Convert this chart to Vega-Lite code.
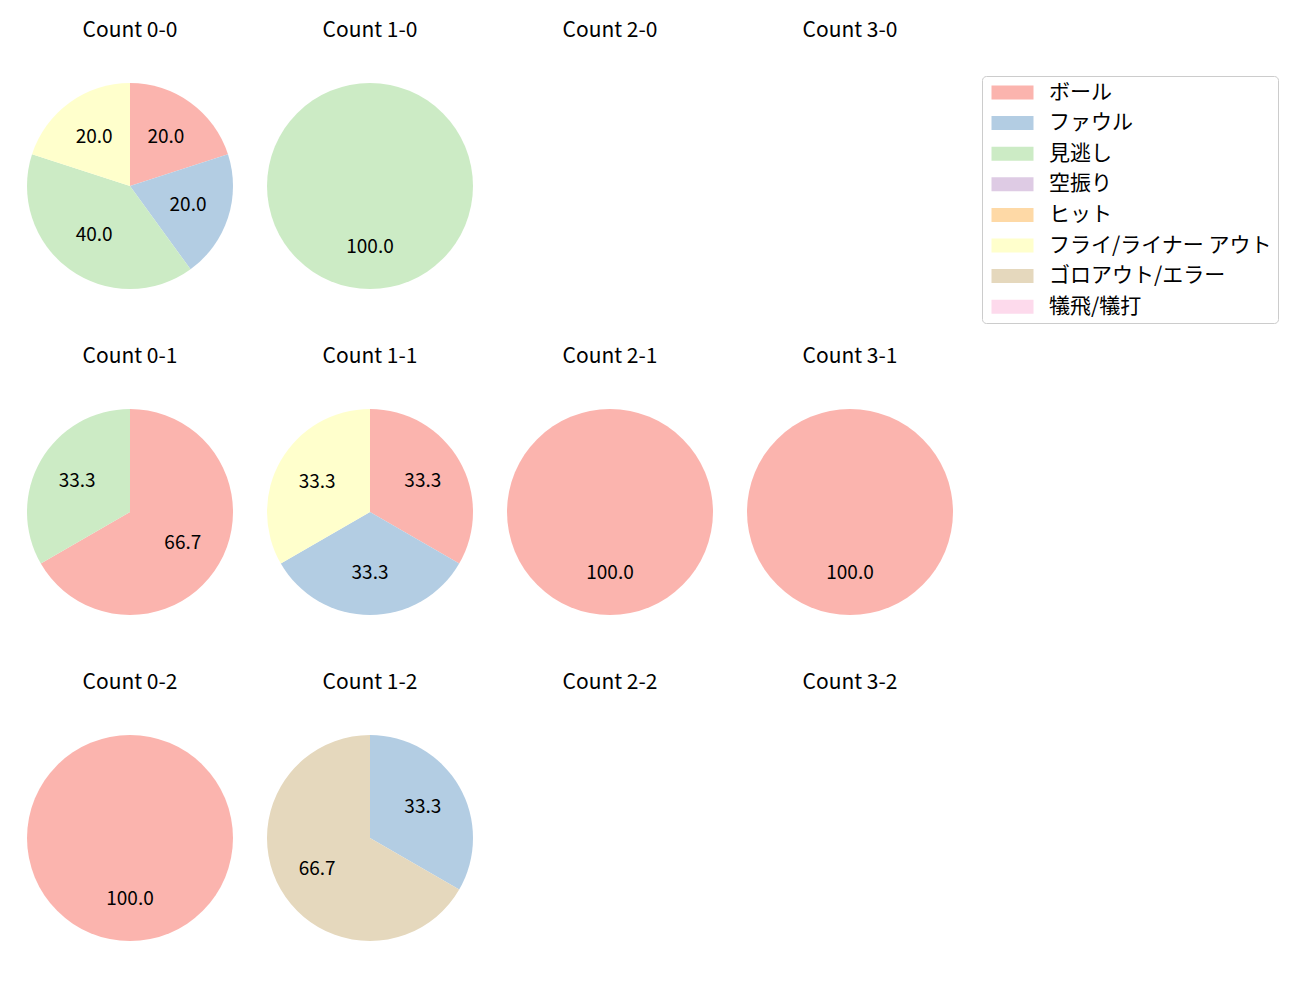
{
  "$schema": "https://vega.github.io/schema/vega-lite/v6.json",
  "padding": {"left": 25, "top": 20, "right": 5, "bottom": 5},
  "data": {"values": [
    {"panel": "Count 0-0", "cat": "ボール", "k": 0, "pct": 20},
    {"panel": "Count 0-0", "cat": "ファウル", "k": 1, "pct": 20},
    {"panel": "Count 0-0", "cat": "見逃し", "k": 2, "pct": 40},
    {"panel": "Count 0-0", "cat": "フライ/ライナー アウト", "k": 5, "pct": 20},
    {"panel": "Count 1-0", "cat": "見逃し", "k": 2, "pct": 100},
    {"panel": "Count 2-0", "cat": "ボール", "k": 0, "pct": 0},
    {"panel": "Count 3-0", "cat": "ボール", "k": 0, "pct": 0},
    {"panel": "Count 0-1", "cat": "ボール", "k": 0, "pct": 66.667},
    {"panel": "Count 0-1", "cat": "見逃し", "k": 2, "pct": 33.333},
    {"panel": "Count 1-1", "cat": "ボール", "k": 0, "pct": 33.333},
    {"panel": "Count 1-1", "cat": "ファウル", "k": 1, "pct": 33.333},
    {"panel": "Count 1-1", "cat": "フライ/ライナー アウト", "k": 5, "pct": 33.334},
    {"panel": "Count 2-1", "cat": "ボール", "k": 0, "pct": 100},
    {"panel": "Count 3-1", "cat": "ボール", "k": 0, "pct": 100},
    {"panel": "Count 0-2", "cat": "ボール", "k": 0, "pct": 100},
    {"panel": "Count 1-2", "cat": "ファウル", "k": 1, "pct": 33.333},
    {"panel": "Count 1-2", "cat": "ゴロアウト/エラー", "k": 6, "pct": 66.667},
    {"panel": "Count 2-2", "cat": "ボール", "k": 0, "pct": 0},
    {"panel": "Count 3-2", "cat": "ボール", "k": 0, "pct": 0}
  ]},
  "facet": {
    "field": "panel",
    "type": "nominal",
    "sort": ["Count 0-0", "Count 1-0", "Count 2-0", "Count 3-0", "Count 0-1", "Count 1-1", "Count 2-1", "Count 3-1", "Count 0-2", "Count 1-2", "Count 2-2", "Count 3-2"],
    "header": {"title": null, "labelFontSize": 21, "labelColor": "#000000", "labelPadding": 40, "labelFont": "Noto Sans CJK JP"}
  },
  "columns": 4,
  "spacing": {"column": 30, "row": 55},
  "spec": {
    "width": 210,
    "height": 210,
    "encoding": {
      "theta": {"field": "pct", "type": "quantitative", "stack": true, "scale": {"domain": [0, 100]}},
      "order": {"field": "k", "type": "quantitative"},
      "color": {
        "field": "cat",
        "type": "nominal",
        "scale": {
          "domain": ["ボール", "ファウル", "見逃し", "空振り", "ヒット", "フライ/ライナー アウト", "ゴロアウト/エラー", "犠飛/犠打"],
          "range": ["#fbb4ae", "#b3cde3", "#ccebc5", "#decbe4", "#fed9a6", "#ffffcc", "#e5d8bd", "#fddaec"]
        },
        "legend": {
          "title": null,
          "orient": "none",
          "legendX": 957,
          "legendY": -5,
          "symbolType": "M-1,-1L5,-1L5,1L-1,1Z",
          "symbolSize": 196,
          "symbolStrokeWidth": 0,
          "symbolOpacity": 1,
          "labelOffset": 40,
          "labelFontSize": 21,
          "labelLimit": 400,
          "labelFont": "Noto Sans CJK JP",
          "labelColor": "#000000",
          "rowPadding": 8.6,
          "padding": 6,
          "strokeColor": "#cccccc",
          "fillColor": "#ffffff",
          "cornerRadius": 4
        }
      }
    },
    "layer": [
      {"mark": {"type": "arc", "outerRadius": 103, "strokeWidth": 0}},
      {
        "transform": [{"filter": "datum.pct > 0"}],
        "mark": {"type": "text", "radius": 61, "fontSize": 19, "color": "#000000", "font": "Noto Sans CJK JP"},
        "encoding": {"text": {"field": "pct", "type": "quantitative", "format": ".1f"}, "color": {"value": "#000000"}}
      }
    ]
  },
  "config": {"view": {"stroke": null}, "font": "Noto Sans CJK JP"}
}
